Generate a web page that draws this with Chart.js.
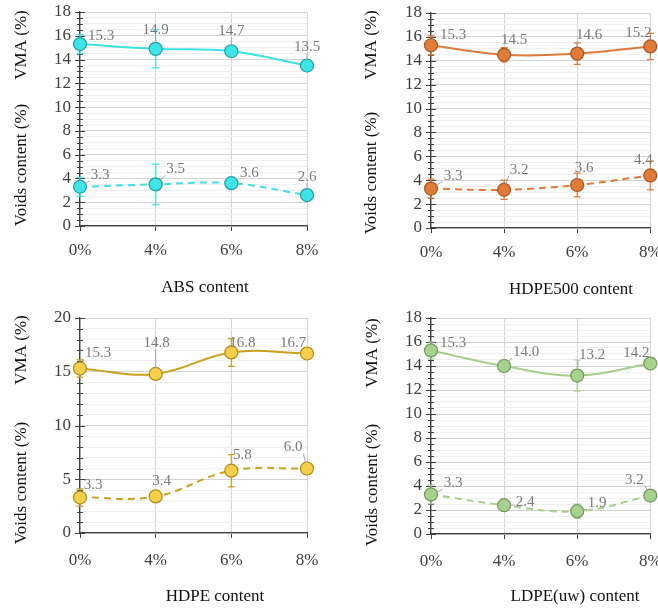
<!DOCTYPE html>
<html>
<head>
<meta charset="utf-8">
<script src="https://cdn.jsdelivr.net/npm/chart.js@4.4.0/dist/chart.umd.min.js"></script>
<style>
  body { margin: 0; background: #fff; }
  #wrap { position: relative; width: 658px; height: 611px; overflow: hidden; }
  canvas { position: absolute; }
</style>
</head>
<body>
<div id="wrap">
  <canvas id="c1" width="329" height="300" style="left:0;top:0"></canvas>
  <canvas id="c2" width="329" height="300" style="left:329px;top:0"></canvas>
  <canvas id="c3" width="329" height="311" style="left:0;top:300px"></canvas>
  <canvas id="c4" width="329" height="311" style="left:329px;top:300px"></canvas>
</div>
<script>
// data
const categories = ['0%', '4%', '6%', '8%'];

const absVma = [15.3, 14.9, 14.7, 13.5];
const absVmaErr = [0.8, 1.6, 0.2, 0.2];
const absVoids = [3.3, 3.5, 3.6, 2.6];
const absVoidsErr = [0.8, 1.7, 0.2, 0.2];

const hdpe500Vma = [15.3, 14.5, 14.6, 15.2];
const hdpe500VmaErr = [0.8, 0.6, 0.9, 1.1];
const hdpe500Voids = [3.3, 3.2, 3.6, 4.4];
const hdpe500VoidsErr = [0.8, 0.8, 1.0, 1.2];

const hdpeVma = [15.3, 14.8, 16.8, 16.7];
const hdpeVmaErr = [0.8, 0.2, 1.3, 0.2];
const hdpeVoids = [3.3, 3.4, 5.8, 6.0];
const hdpeVoidsErr = [0.8, 0.2, 1.5, 0.5];

const ldpeVma = [15.3, 14.0, 13.2, 14.2];
const ldpeVmaErr = [0.7, 0.2, 1.3, 0.2];
const ldpeVoids = [3.3, 2.4, 1.9, 3.2];
const ldpeVoidsErr = [0.8, 0.2, 0.6, 0.2];

const serif = "'Liberation Serif', 'DejaVu Serif', serif";

const panels = [
  {
    id: 'c1', xTitle: 'ABS content',
    vma: absVma, vmaErr: absVmaErr, voids: absVoids, voidsErr: absVoidsErr,
    line: '#3fe0e2', fill: '#3fe4e6', edge: '#1c9fa8',
    yMax: 18, major: 2, minor: 0.5,
    box: { left: 80, top: 12, xHeight: 74, padRight: 22 }, xPad: 9,
    titles: { vma: [22, 45], voids: [22, 165], x: [205, 288] },
    vmaOff: [[21, -8], [0, -19], [0, -20], [0, -18]],
    voidsOff: [[20, -12], [20, -15], [18, -10], [0, -18]]
  },
  {
    id: 'c2', xTitle: 'HDPE500 content',
    vma: hdpe500Vma, vmaErr: hdpe500VmaErr, voids: hdpe500Voids, voidsErr: hdpe500VoidsErr,
    line: '#e07a3a', fill: '#e07b39', edge: '#a9561d',
    yMax: 18, major: 2, minor: 0.5,
    box: { left: 102, top: 13, xHeight: 72, padRight: 6 }, xPad: 9,
    titles: { vma: [43, 45], voids: [43, 173], x: [242, 290] },
    vmaOff: [[22, -10], [10, -15], [12, -19], [-12, -13]],
    voidsOff: [[22, -13], [15, -20], [7, -17], [-7, -15]]
  },
  {
    id: 'c3', xTitle: 'HDPE content',
    vma: hdpeVma, vmaErr: hdpeVmaErr, voids: hdpeVoids, voidsErr: hdpeVoidsErr,
    line: '#c9a21f', fill: '#f6cf4d', edge: '#b08a14',
    yMax: 20, major: 5, minor: 1,
    box: { left: 80, top: 18, xHeight: 78, padRight: 22 }, xPad: 12,
    titles: { vma: [22, 50], voids: [22, 183], x: [215, 297] },
    vmaOff: [[18, -15], [1, -31], [11, -9], [-14, -10]],
    voidsOff: [[13, -12], [6, -15], [11, -16], [-14, -21]]
  },
  {
    id: 'c4', xTitle: 'LDPE(uw) content',
    vma: ldpeVma, vmaErr: ldpeVmaErr, voids: ldpeVoids, voidsErr: ldpeVoidsErr,
    line: '#a6cf8b', fill: '#a9d18e', edge: '#6e9a58',
    yMax: 18, major: 2, minor: 0.5,
    box: { left: 102, top: 18, xHeight: 77, padRight: 6 }, xPad: 12,
    titles: { vma: [44, 53], voids: [44, 185], x: [246, 297] },
    vmaOff: [[22, -7], [22, -14], [15, -21], [-14, -11]],
    voidsOff: [[22, -11], [21, -3], [20, -8], [-16, -16]]
  }
];

// y tick marks crossing the axis, then error bars, all under the points
const underlay = {
  id: 'underlay',
  beforeDatasetsDraw(chart, args, opts) {
    const ctx = chart.ctx;
    const y = chart.scales.y;
    const ax = chart.chartArea.left;
    ctx.save();
    ctx.strokeStyle = '#404040';
    ctx.lineWidth = 1;
    y.ticks.forEach(t => {
      const py = Math.round(y.getPixelForValue(t.value)) + 0.5;
      const major = Math.abs(t.value / opts.major - Math.round(t.value / opts.major)) < 1e-6;
      const len = major ? 5 : 3;
      ctx.beginPath();
      ctx.moveTo(ax - len, py); ctx.lineTo(ax + len, py);
      ctx.stroke();
    });
    ctx.restore();

    chart.data.datasets.forEach((ds, i) => {
      const meta = chart.getDatasetMeta(i);
      ctx.save();
      ctx.strokeStyle = ds.borderColor;
      ctx.lineWidth = 1.2;
      meta.data.forEach((pt, j) => {
        const e = ds.errors[j];
        const top = y.getPixelForValue(ds.data[j] + e);
        const bot = y.getPixelForValue(ds.data[j] - e);
        ctx.beginPath();
        ctx.moveTo(pt.x, top); ctx.lineTo(pt.x, bot);
        ctx.moveTo(pt.x - 3.5, top); ctx.lineTo(pt.x + 3.5, top);
        ctx.moveTo(pt.x - 3.5, bot); ctx.lineTo(pt.x + 3.5, bot);
        ctx.stroke();
      });
      ctx.restore();
    });
  }
};

// data labels with leader lines, axis titles
const extras = {
  id: 'extras',
  afterDatasetsDraw(chart) {
    const ctx = chart.ctx;
    ctx.save();
    ctx.font = '15px ' + serif;
    ctx.textAlign = 'center';
    ctx.textBaseline = 'middle';
    chart.data.datasets.forEach((ds, i) => {
      const meta = chart.getDatasetMeta(i);
      meta.data.forEach((pt, j) => {
        const off = ds.labelOff[j];
        const txt = ds.data[j].toFixed(1);
        const lx = pt.x + off[0], ly = pt.y + off[1];
        const w = ctx.measureText(txt).width / 2 + 1, h = 6;
        // nearest point of label box to the marker
        const nx = Math.max(lx - w, Math.min(pt.x, lx + w));
        const ny = Math.max(ly - h, Math.min(pt.y, ly + h));
        const dx = nx - pt.x, dy = ny - pt.y;
        const d = Math.hypot(dx, dy);
        if (d > 9) {
          ctx.strokeStyle = '#a6a6a6';
          ctx.lineWidth = 1;
          ctx.beginPath();
          ctx.moveTo(pt.x + dx / d * 6, pt.y + dy / d * 6);
          ctx.lineTo(nx, ny);
          ctx.stroke();
        }
        ctx.fillStyle = '#7a7a7a';
        ctx.fillText(txt, lx, ly);
      });
    });
    ctx.restore();
  },
  afterDraw(chart, args, opts) {
    const ctx = chart.ctx;
    ctx.save();
    ctx.fillStyle = '#111';
    ctx.font = '17px ' + serif;
    ctx.textAlign = 'center';
    ctx.textBaseline = 'middle';
    const vertical = (txt, p) => {
      ctx.save();
      ctx.translate(p[0], p[1]);
      ctx.rotate(-Math.PI / 2);
      ctx.fillText(txt, 0, 0);
      ctx.restore();
    };
    vertical('VMA (%)', opts.titles.vma);
    vertical('Voids content (%)', opts.titles.voids);
    ctx.fillText(opts.xTitle, opts.titles.x[0], opts.titles.x[1]);
    ctx.restore();
  }
};

panels.forEach(p => {
  const isMajor = v => Math.abs(v / p.major - Math.round(v / p.major)) < 1e-6;
  new Chart(document.getElementById(p.id), {
    type: 'line',
    data: {
      labels: categories,
      datasets: [
        {
          label: 'VMA', data: p.vma, errors: p.vmaErr, labelOff: p.vmaOff,
          borderColor: p.line, borderWidth: 2, tension: 0.4,
          pointRadius: 6.5, pointBackgroundColor: p.fill,
          pointBorderColor: p.edge, pointBorderWidth: 1.2, clip: false
        },
        {
          label: 'Voids', data: p.voids, errors: p.voidsErr, labelOff: p.voidsOff,
          borderColor: p.line, borderWidth: 2, borderDash: [7, 5], tension: 0.4,
          pointRadius: 6.5, pointBackgroundColor: p.fill,
          pointBorderColor: p.edge, pointBorderWidth: 1.2, clip: false
        }
      ]
    },
    options: {
      responsive: false,
      animation: false,
      devicePixelRatio: 1,
      layout: { padding: { top: p.box.top, right: p.box.padRight, left: 0, bottom: 0 } },
      plugins: {
        legend: { display: false },
        tooltip: { enabled: false },
        underlay: { major: p.major },
        extras: { titles: p.titles, xTitle: p.xTitle }
      },
      scales: {
        x: {
          offset: false,
          grid: { color: '#d6d6d6', tickColor: '#404040', tickLength: 5 },
          border: { color: '#404040', width: 1.3 },
          ticks: { color: '#404040', padding: p.xPad, font: { family: serif, size: 17 }, maxRotation: 0, autoSkip: false },
          afterFit(s) { s.height = p.box.xHeight; s.paddingLeft = 0; s.paddingRight = 0; }
        },
        y: {
          min: 0, max: p.yMax,
          grid: {
            drawTicks: false,
            color: c => isMajor(c.tick.value) ? '#d3d3d3' : '#efefef'
          },
          border: { color: '#404040', width: 1.3 },
          ticks: {
            stepSize: p.minor, autoSkip: false, padding: 9, color: '#404040',
            font: { family: serif, size: 17 },
            callback: v => isMajor(v) ? String(Math.round(v)) : ''
          },
          afterFit(s) { s.width = p.box.left; s.paddingTop = 0; s.paddingBottom = 0; }
        }
      }
    },
    plugins: [underlay, extras]
  });
});
</script>
</body>
</html>
